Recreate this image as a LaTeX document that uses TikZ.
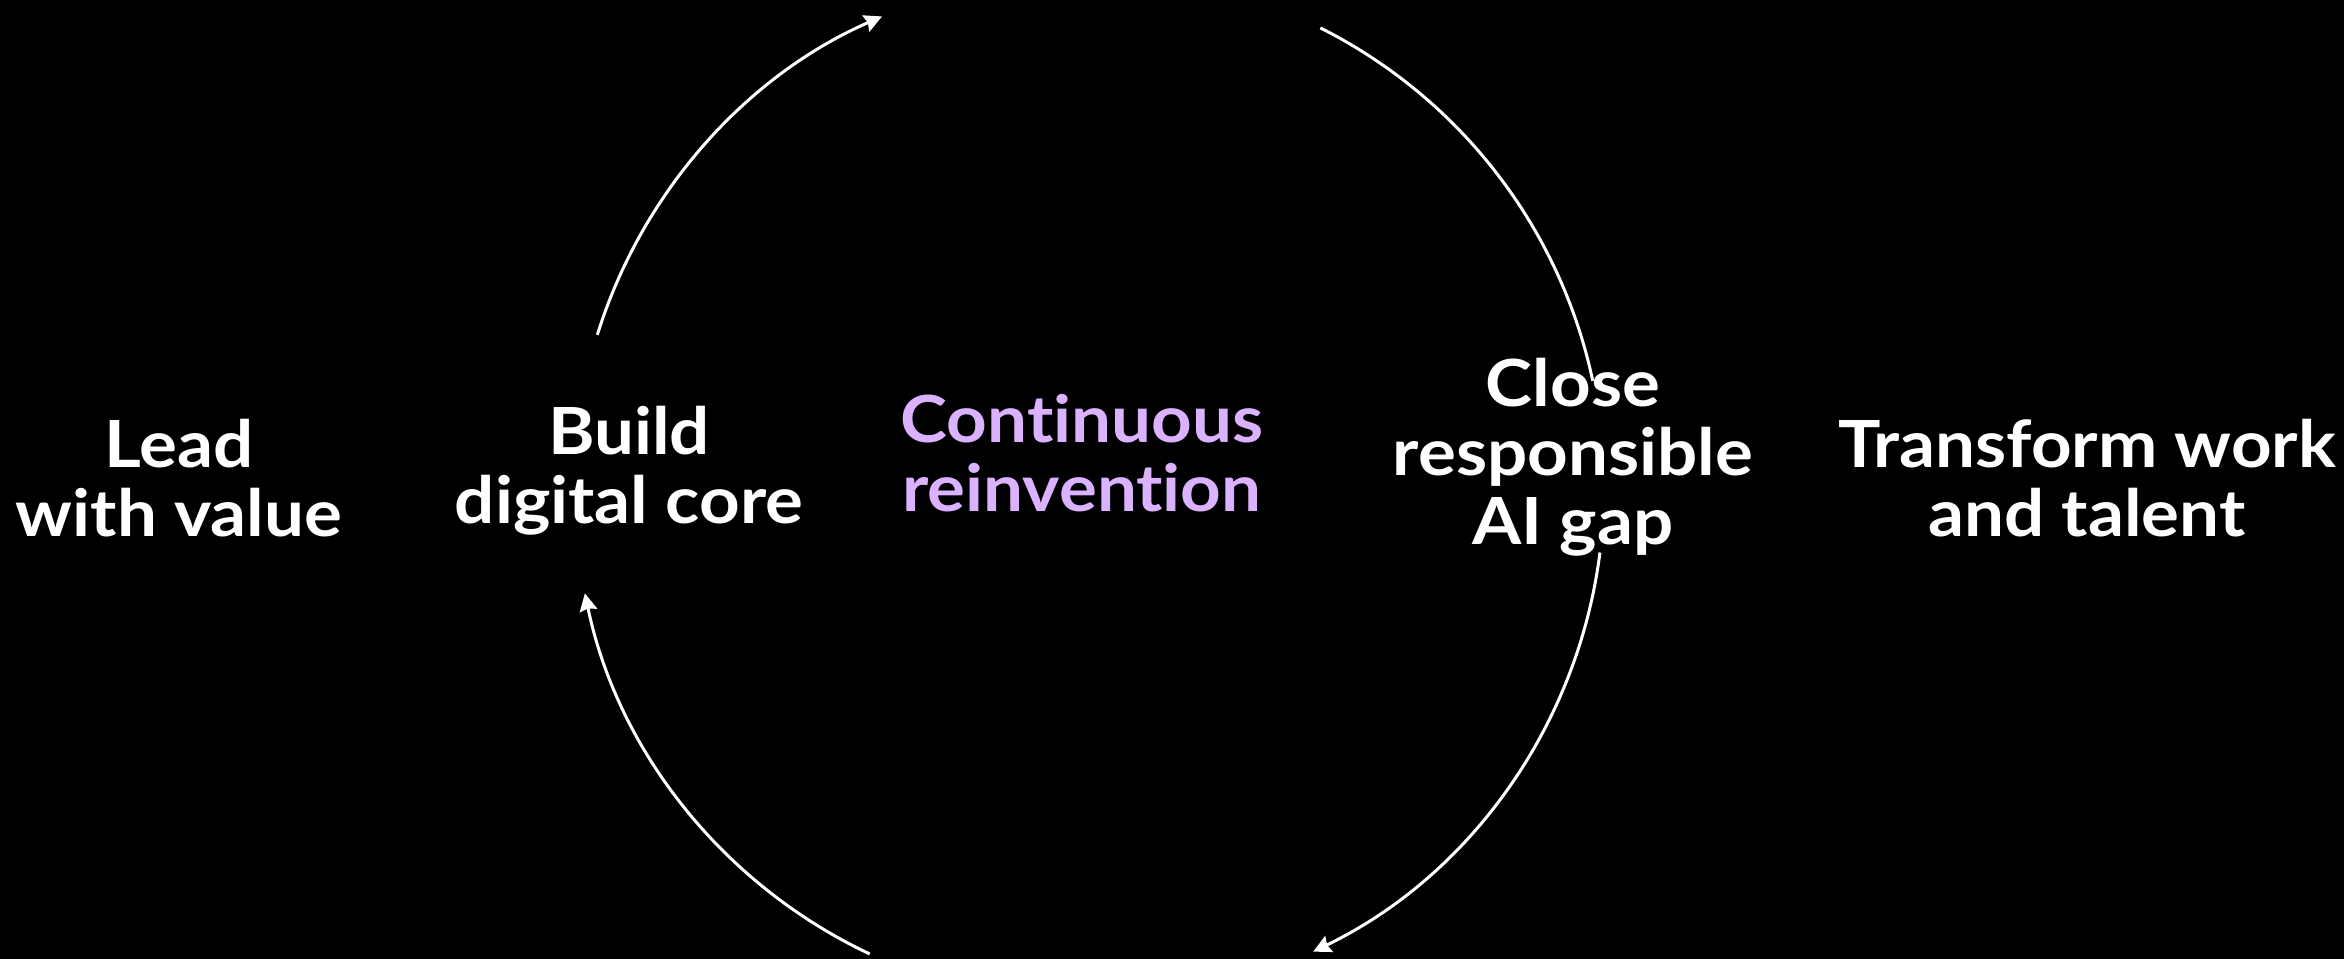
\documentclass[tikz,border=0pt]{standalone}
\usepackage{fontspec}
\setmainfont{Lato}[FakeStretch=1.09, Ligatures=NoCommon]
\usepackage{xcolor}
\usepackage{tikz}
\usetikzlibrary{arrows.meta}
\definecolor{lilac}{RGB}{218,178,255}
\tikzstyle{fLabel} = [align=center, text=white, inner sep=0pt, font=\bfseries\fontsize{18.5}{19.7}\selectfont]
\tikzstyle{fFocus} = [fLabel, text=lilac]
\tikzstyle{fArc} = [white, line width=0.85pt]
\tikzstyle{fArrow} = [fArc, -{Stealth[length=5pt, width=5pt, inset=0.6pt]}]

\begin{document}
\begin{tikzpicture}[node distance=4.5cm]
    \fill[black] (0,0) rectangle (23.44,9.59);
    \useasboundingbox (0,0) rectangle (23.44,9.59);
    \coordinate (hub) at (10.89,4.71);

    % the cycle around the middle
    \draw [fArrow] ([shift={(162.7:5.15)}]hub) arc[start angle=162.7, end angle=113.7, radius=5.15];
    \draw [fArc] ([shift={(63.3:5.15)}]hub) arc[start angle=63.3, end angle=12.0, radius=5.15];
    \draw [fArrow] ([shift={(-7.2:5.15)}]hub) arc[start angle=-7.2, end angle=-64.2, radius=5.15];
    \draw [fArrow] ([shift={(244.8:5.15)}]hub) arc[start angle=244.8, end angle=191.8, radius=5.15];

    \node (lead) [fLabel] at (1.79,4.81) {Lead\\with value};
    \node (build) [fLabel, right of=lead, yshift=0.07cm] {Build\\digital core};
    \node (reinvent) [fFocus, right of=build, xshift=0.03cm, yshift=0.18cm] {Continuous\\reinvention};
    \node (close) [fLabel, right of=reinvent, xshift=0.41cm, yshift=-0.04cm] {Close\\responsible\\AI gap};
    \node (transform) [fLabel, right of=close, xshift=0.64cm, yshift=-0.21cm] {Transform work\\and talent};
\end{tikzpicture}
\end{document}
